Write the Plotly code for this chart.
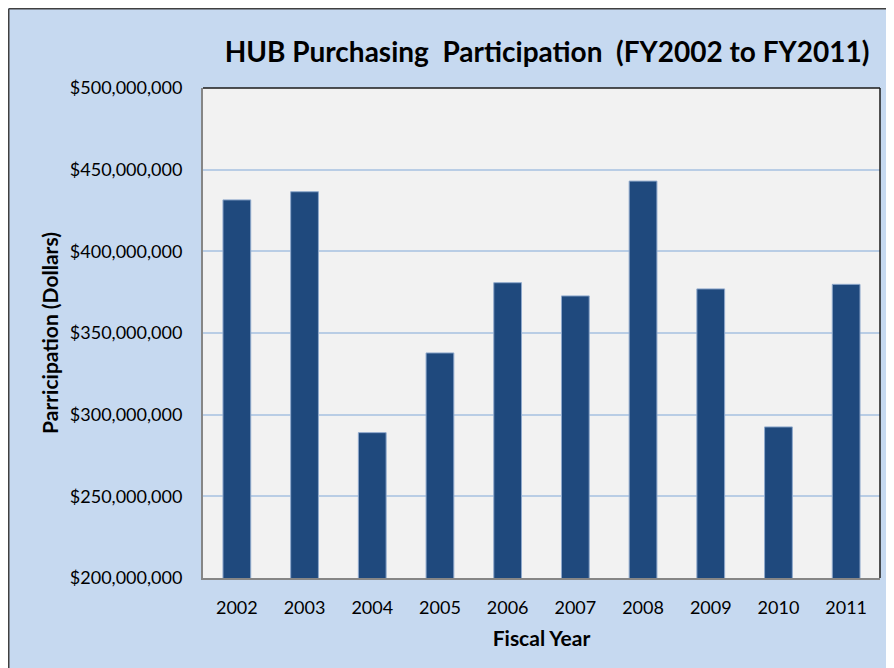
import plotly.graph_objects as go

years = ["2002", "2003", "2004", "2005", "2006", "2007", "2008", "2009", "2010", "2011"]
participation = [431.5e6, 436.5e6, 289e6, 337.8e6, 380.8e6, 372.7e6, 443e6, 377e6, 292.5e6, 379.8e6]
y_ticks = [200e6, 250e6, 300e6, 350e6, 400e6, 450e6, 500e6]
y_tick_labels = ["$200,000,000", "$250,000,000", "$300,000,000", "$350,000,000",
                 "$400,000,000", "$450,000,000", "$500,000,000"]

# page body adds an 8px margin, so the figure fills the rest of the window
W, H = 886, 660
L, R, T, B = 195, 14, 80, 90
pw = W - L - R
ph = H - T - B

def px_x(px):
    return (px - L) / pw

def px_y(py):
    return (H - B - py) / ph

FONT = "Lato, 'Open Sans', sans-serif"

fig = go.Figure()
fig.add_trace(go.Bar(
    x=years, y=participation, width=0.41,
    marker=dict(color="#1F497D", line=dict(color="#8FA9CC", width=1)),
    hoverinfo="x+y",
))

shapes = [
    # outer border (top and left edges visible)
    dict(type="line", xref="paper", yref="paper", x0=px_x(0.75), x1=px_x(W + 10), y0=px_y(0.75), y1=px_y(0.75),
         line=dict(color="#404040", width=1.5), layer="below"),
    dict(type="line", xref="paper", yref="paper", x0=px_x(0.75), x1=px_x(0.75), y0=px_y(H + 10), y1=px_y(0.75),
         line=dict(color="#404040", width=1.5), layer="below"),
    # plot area top/right border
    dict(type="line", xref="paper", yref="paper", x0=0, x1=1, y0=1, y1=1,
         line=dict(color="#1a1a1a", width=1.5)),
    dict(type="line", xref="paper", yref="paper", x0=1, x1=1, y0=0, y1=1,
         line=dict(color="#1a1a1a", width=1.5)),
]

fig.update_layout(
    width=W, height=H,
    margin=dict(l=L, r=R, t=T, b=B),
    paper_bgcolor="#C6D9F0",
    plot_bgcolor="#F2F2F2",
    showlegend=False,
    shapes=shapes,
    title=dict(text="<b>HUB Purchasing  Participation  (FY2002 to FY2011)</b>",
               x=539 / W, xanchor="center", y=1 - 44 / H, yanchor="middle",
               font=dict(family=FONT, size=28, color="#000000")),
    font=dict(family=FONT, color="#000000"),
)

fig.update_xaxes(
    type="category",
    showline=True, linecolor="#868686", linewidth=2,
    ticks="outside", ticklen=0, tickcolor="rgba(0,0,0,0)",
    ticklabelstandoff=12,
    tickfont=dict(size=18, color="#000000"),
    title=dict(text="<b>Fiscal Year</b>", font=dict(size=21), standoff=15),
    showgrid=False,
)
fig.update_yaxes(
    range=[200e6, 500e6],
    tickmode="array", tickvals=y_ticks, ticktext=y_tick_labels,
    tickfont=dict(size=18, color="#000000"),
    showline=True, linecolor="#868686", linewidth=2,
    showgrid=True, gridcolor="#B9CDE5", gridwidth=1.5,
    ticks="outside", ticklen=0, tickcolor="rgba(0,0,0,0)",
    ticklabelstandoff=15,
    title=dict(text="<b>Parricipation (Dollars)</b>", font=dict(size=21), standoff=5),
    zeroline=False,
)

fig.write_html("out.html")
